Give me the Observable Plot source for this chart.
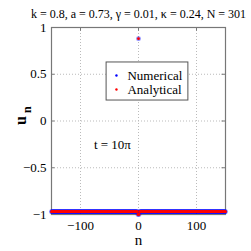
<!DOCTYPE html>
<html>
<head>
<meta charset="utf-8">
<script src="https://cdn.jsdelivr.net/npm/d3@7"></script>
<script src="https://cdn.jsdelivr.net/npm/@observablehq/plot@0.6"></script>
<style>
html,body{margin:0;padding:0;background:#fff;}
svg text{font-family:"Liberation Serif","Times New Roman",Times,serif;}
</style>
</head>
<body>
<div id="chart"></div>
<script>
// ---- data ----
const nStart = -150, nEnd = 150;          // lattice sites, N = 301
const plateauU = -0.97;                    // background value of u_n
const specialN = [-1, 0, 1];               // sites that differ from plateau
const specialU = [-1.0, 0.88, -1.0];
const xTicks = [-100, 0, 100];
const yTicks = [-1, -0.5, 0, 0.5, 1];
const titleText = "k = 0.8, a = 0.73, \u03b3 = 0.01, \u03ba = 0.24, N = 301";
const annotText = "t = 10\u03c0";
const seriesNames = ["Numerical", "Analytical"];
const seriesColors = ["#0000ff", "#ff0000"];

const FONT = "Liberation Serif, Times New Roman, serif";

const data = d3.range(nStart, nEnd + 1).map(n => {
  const i = specialN.indexOf(n);
  return {n, u: i >= 0 ? specialU[i] : plateauU};
});

const legend = [
  {x: -38, y: 0.487, tx: -19, name: seriesNames[0], color: seriesColors[0]},
  {x: -38, y: 0.337, tx: -19, name: seriesNames[1], color: seriesColors[1]}
];

const fmt = d => d === 0 ? "0" : String(d).replace("-", "\u2212");

const chart = Plot.plot({
  width: 251,
  height: 251,
  marginLeft: 51,
  marginRight: 26,
  marginTop: 27,
  marginBottom: 37,
  style: "font-family: 'Liberation Serif', serif; font-size: 13px; background: #fff; color: #000;",
  x: {type: "linear", domain: [nStart, nEnd], label: null},
  y: {type: "linear", domain: [-1, 1], label: null},
  marks: [
    Plot.gridX(xTicks, {stroke: "#bbb", strokeOpacity: 1, strokeDasharray: "1,2"}),
    Plot.gridY(yTicks, {stroke: "#bbb", strokeOpacity: 1, strokeDasharray: "1,2"}),
    Plot.axisX({ticks: xTicks, tickFormat: fmt, tickSize: 0, tickPadding: 6, fontSize: 13, fontFamily: FONT, label: null}),
    Plot.axisY({ticks: yTicks, tickFormat: fmt, tickSize: 0, tickPadding: 5, fontSize: 13, fontFamily: FONT, label: null}),
    // inward ticks (MATLAB style)
    Plot.ruleX(xTicks, {x: d => d, y1: -1, y2: -0.96, stroke: "#777"}),
    Plot.ruleX(xTicks, {x: d => d, y1: 0.96, y2: 1, stroke: "#777"}),
    Plot.ruleY(yTicks, {y: d => d, x1: nStart, x2: nStart + 6, stroke: "#777"}),
    Plot.ruleY(yTicks, {y: d => d, x1: nEnd - 6, x2: nEnd, stroke: "#777"}),
    Plot.frame({stroke: "#777", strokeWidth: 1.2}),
    // Numerical series
    Plot.dot(data, {x: "n", y: "u", r: 2.4, fill: seriesColors[0], stroke: "none", fillOpacity: 0.45}),
    // Analytical series
    Plot.dot(data, {x: "n", y: "u", r: 1.4, fill: seriesColors[1], stroke: "none"}),
    // legend
    Plot.rect([0], {x1: () => -55, x2: () => 86, y1: () => 0.219, y2: () => 0.626, fill: "#fff", stroke: "#555", strokeWidth: 1}),
    Plot.dot(legend, {x: "x", y: "y", r: 1.2, fill: "color", stroke: "none"}),
    Plot.text(legend, {x: "tx", y: "y", text: "name", textAnchor: "start", fontSize: 13, fontFamily: FONT, fill: "#000"}),
    // annotation
    Plot.text([annotText], {x: () => -45, y: () => -0.26, text: d => d, fontSize: 13, fontFamily: FONT, fill: "#000"}),
    // title
    Plot.text([titleText], {frameAnchor: "top", dy: -18, text: d => d, fontSize: 12, fontFamily: FONT, fill: "#000"}),
    // axis labels
    Plot.text(["n"], {frameAnchor: "bottom", dy: 30, text: d => d, fontSize: 15, fontFamily: FONT, fill: "#000"}),
    Plot.text(["u"], {frameAnchor: "left", dx: -31, dy: 4, rotate: -90, text: d => d, fontSize: 16, fontWeight: "bold", fontFamily: FONT, fill: "#000"}),
    Plot.text(["n"], {frameAnchor: "left", dx: -24, dy: -8, rotate: -90, text: d => d, fontSize: 12, fontWeight: "bold", fontFamily: FONT, fill: "#000"})
  ]
});
document.getElementById("chart").appendChild(chart);
</script>
</body>
</html>
